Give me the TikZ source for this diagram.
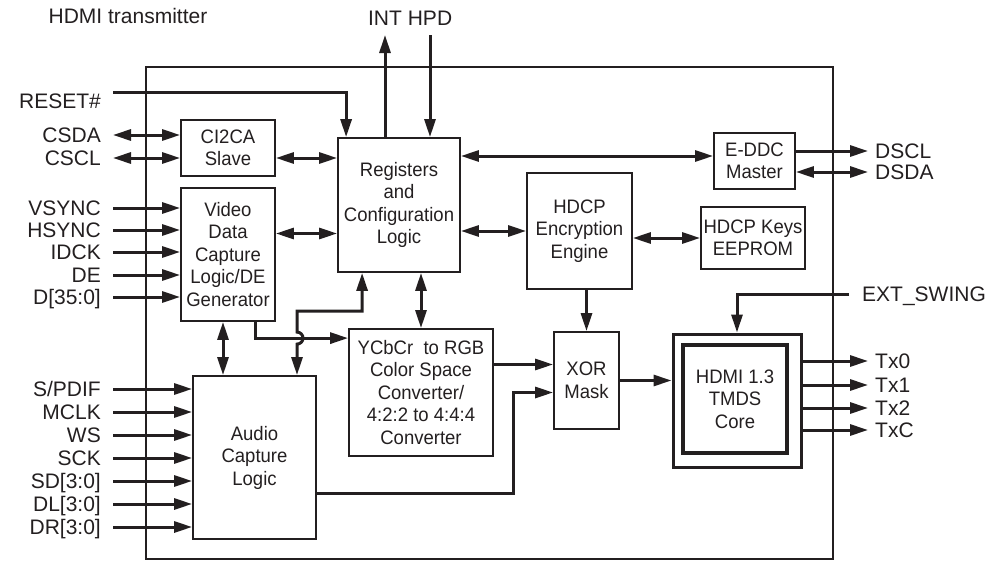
\documentclass[tikz,border=0pt]{standalone}
\usepackage{fontspec}
\setmainfont{Liberation Sans}
\newfontfamily\boxfont{Liberation Sans}[FakeStretch=0.95]
\usetikzlibrary{positioning,arrows.meta}
\definecolor{ink}{HTML}{231F20}

\begin{document}
\begin{tikzpicture}[x=1pt, y=-1pt,
  >={Triangle[length=18pt, width=11pt]},
  blk/.style={draw=ink, line width=1.8pt, align=center, inner sep=0pt, text=ink,
              font=\boxfont\fontsize{19.5}{22.5}\selectfont},
  inlbl/.style={anchor=east, inner xsep=12pt, inner ysep=0pt, text height=15pt,
              text depth=0pt, text=ink, font=\fontsize{21}{24}\selectfont},
  outlbl/.style={inlbl, anchor=west, inner xsep=7pt},
  toplbl/.style={inlbl, anchor=south, inner xsep=0pt, inner ysep=9pt},
  arrow/.style={->, line width=3pt, draw=ink},
  biarrow/.style={<->, line width=3pt, draw=ink}
]
\useasboundingbox (0,0) rectangle (986,562);
\node[draw=ink, line width=1.5pt, minimum width=687pt, minimum height=492pt, inner sep=0pt] (chip) at (489.5,313) {};
\node[text=ink, font=\fontsize{21}{24}\selectfont] (title) at (128,16) {HDMI transmitter};

% blocks
\node[blk, minimum width=94pt, minimum height=56pt] (ci2ca) at (228,148) {CI2CA\\Slave};
\node[blk, minimum width=122pt, minimum height=134pt] (regs) at (399,205) {Registers\\and\\Configuration\\Logic};
\node[blk, minimum width=94pt, minimum height=133pt] (video) at (228,254.5) {Video\\Data\\Capture\\Logic/DE\\Generator};
\node[blk, minimum width=123pt, minimum height=163pt] (audio) at (254.5,457.5) {Audio\\Capture\\Logic};
\node[blk, minimum width=144pt, minimum height=127pt] (ycc) at (421,392.5) {YCbCr\ \ to RGB\\Color Space\\Converter/\\4:2:2 to 4:4:4\\Converter};
\node[blk, minimum width=105pt, minimum height=116pt] (hdcp) at (579.5,231) {HDCP\\Encryption\\Engine};
\node[blk, minimum width=104pt, minimum height=62pt] (keys) at (753,238) {HDCP Keys\\EEPROM};
\node[blk, minimum width=81pt, minimum height=56pt] (eddc) at (754.5,161) {E-DDC\\Master};
\node[blk, minimum width=65pt, minimum height=97pt] (xor) at (586.5,380.5) {XOR\\Mask};
\node[blk, line width=3pt, minimum width=128pt, minimum height=133pt] (core) at (737,400.5) {};
\node[blk, line width=3.8pt, minimum width=104pt, minimum height=108pt] (tmds) at (735,399) {HDMI 1.3\\TMDS\\Core};

% pins
\node[inlbl] (reset) at (113,101) {RESET\#};
\node[inlbl] (csda) at (113,135) {CSDA};
\node[inlbl] (cscl) at (113,158) {CSCL};
\node[toplbl] (int) at (385,35) {INT};
\node[toplbl] (hpd) at (430,35) {HPD};
\node[outlbl] (dscl) at (868,151) {DSCL};
\node[outlbl] (dsda) at (868,172) {DSDA};
\node[outlbl, inner xsep=13pt] (extsw) at (849,294) {EXT\_SWING};

\draw[arrow] ([yshift=9pt]reset.east) -| ([xshift=9pt]regs.north west);
\draw[biarrow] (csda.east) -- (csda.east -| ci2ca.west);
\draw[biarrow] (cscl.east) -- (cscl.east -| ci2ca.west);
\draw[arrow] (regs.north -| int.south) -- (int.south);
\draw[arrow] (hpd.south) -- (hpd.south |- regs.north);
\draw[arrow] (dscl.west -| eddc.east) -- (dscl.west);
\draw[biarrow] (dsda.west -| eddc.east) -- (dsda.west);
\draw[arrow] (extsw.west) -| (core.north);

\foreach \sig/\name/\y in {VSYNC/vsync/208, HSYNC/hsync/230, IDCK/idck/252, DE/de/275, D[35:0]/dbus/297}{
  \node[inlbl] (\name) at (113,\y) {\sig};
  \draw[arrow] (\name.east) -- (\name.east -| video.west);
}
\foreach \sig/\name/\y in {{S/PDIF}/spdif/389, MCLK/mclk/412, WS/ws/435, SCK/sck/458, SD[3:0]/sd/481, DL[3:0]/dl/504, DR[3:0]/dr/527}{
  \node[inlbl] (\name) at (113,\y) {\sig};
  \draw[arrow] (\name.east) -- (\name.east -| audio.west);
}
\foreach \t/\y in {0/361, 1/385, 2/408, C/430}{
  \node[outlbl] (tx\t) at (868,\y) {Tx\t};
  \draw[arrow] (tx\t.west -| core.east) -- (tx\t.west);
}

% internal paths
\draw[biarrow] ([yshift=-10pt]ci2ca.east) -- ([yshift=-10pt]ci2ca.east -| regs.west);
\draw[biarrow] ([yshift=21pt]video.east) -- ([yshift=21pt]video.east -| regs.west);
\draw[biarrow] ([yshift=5pt]eddc.west) -- ([yshift=5pt]eddc.west -| regs.east);
\draw[biarrow] (hdcp.west) -- (hdcp.west -| regs.east);
\draw[biarrow] (keys.west) -- (keys.west -| hdcp.east);
\draw[arrow] (hdcp.south -| xor.north) -- (xor.north);
\draw[biarrow] ([xshift=-5pt]video.south) -- ([xshift=-5pt]video.south |- audio.north);
\draw[arrow] ([xshift=27pt]video.south) |- ([yshift=-10pt]ycc.north west);
\draw[biarrow] ([xshift=42.5pt]audio.north) -- ++(0,-31) arc[start angle=90, end angle=-90, radius=6] -- ++(0,-21) -| ([xshift=25pt]regs.south west);
\draw[biarrow] (ycc.north) -- (ycc.north |- regs.south);
\draw[arrow] ([yshift=16pt]xor.west -| ycc.east) -- ([yshift=16pt]xor.west);
\draw[arrow] ([yshift=-36pt]audio.east) -- ++(197,0) |- ([yshift=-12pt]xor.west);
\draw[arrow] (xor.east) -- (xor.east -| core.west);
\end{tikzpicture}
\end{document}
